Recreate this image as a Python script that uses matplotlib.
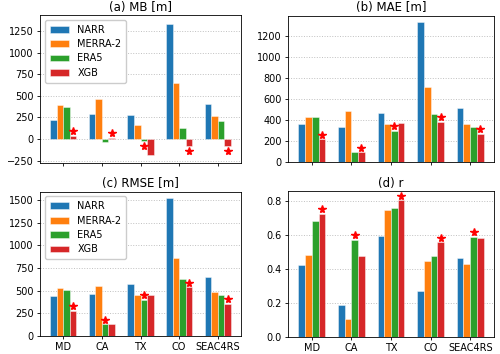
import numpy as np
import matplotlib
matplotlib.use("Agg")
import matplotlib.pyplot as plt

plt.rcParams['font.family'] = ['DejaVu Sans']
plt.rcParams['font.size'] = 7

sites = ['MD', 'CA', 'TX', 'CO', 'SEAC4RS']
models = ['NARR', 'MERRA-2', 'ERA5', 'XGB']
colors = ['#1f77b4', '#ff7f0e', '#2ca02c', '#d62728']

# values per model, ordered as sites
mb = {
    'NARR':    [220, 293, 278, 1327, 400],
    'MERRA-2': [390, 463, 158, 652, 262],
    'ERA5':    [367, -39, -27, 131, 204],
    'XGB':     [39, 15, -185, -77, -81],
}
mae = {
    'NARR':    [360, 328, 470, 1332, 510],
    'MERRA-2': [432, 480, 360, 712, 360],
    'ERA5':    [432, 93, 296, 460, 332],
    'XGB':     [213, 90, 367, 380, 264],
}
rmse = {
    'NARR':    [437, 459, 570, 1519, 656],
    'MERRA-2': [526, 556, 456, 863, 481],
    'ERA5':    [511, 127, 396, 630, 452],
    'XGB':     [281, 131, 456, 537, 352],
}
corr = {
    'NARR':    [0.425, 0.19, 0.595, 0.268, 0.462],
    'MERRA-2': [0.484, 0.107, 0.748, 0.45, 0.43],
    'ERA5':    [0.683, 0.571, 0.756, 0.474, 0.591],
    'XGB':     [0.724, 0.476, 0.804, 0.556, 0.581],
}

panels = [
    ('(a) MB [m]', mb, 'absmin', (-275, 1435), [-250, 0, 250, 500, 750, 1000, 1250]),
    ('(b) MAE [m]', mae, 'min', (0, 1395), [0, 200, 400, 600, 800, 1000, 1200]),
    ('(c) RMSE [m]', rmse, 'min', (0, 1595), [0, 250, 500, 750, 1000, 1250, 1500]),
    ('(d) r', corr, 'max', (0, 0.86), [0.0, 0.2, 0.4, 0.6, 0.8]),
]
positions = [
    [0.08, 0.54, 0.402, 0.418],
    [0.576, 0.543, 0.412, 0.413],
    [0.08, 0.051, 0.402, 0.408],
    [0.576, 0.048, 0.412, 0.413],
]

fig = plt.figure(figsize=(5, 3.54), dpi=100)
x = np.arange(len(sites))
width = 0.17

for i, (title, data, rule, ylim, yticks) in enumerate(panels):
    ax = fig.add_axes(positions[i])
    ax.set_axisbelow(True)
    ax.grid(axis='y', linestyle=':', color='#c0c0c0', linewidth=0.7)
    vals = np.array([data[m] for m in models])
    for j, m in enumerate(models):
        ax.bar(x + (j - 1.5) * width, vals[j], width, color=colors[j],
               edgecolor=(1, 1, 1, 0.6), linewidth=0.5, label=m)

    # star on the best model per site
    off = 0.033 * (ylim[1] - ylim[0])
    for k in range(len(sites)):
        col = vals[:, k]
        if rule == 'absmin':
            b = np.argmin(np.abs(col))
        elif rule == 'min':
            b = np.argmin(col)
        else:
            b = np.argmax(col)
        v = col[b]
        ys = v + off if v >= 0 else v - off
        ax.plot(x[k] + (b - 1.5) * width, ys, marker='*', color='red',
                markersize=5.8, linestyle='none')

    ax.set_ylim(*ylim)
    ax.set_yticks(yticks)
    ax.set_xlim(-0.6, len(sites) - 0.4)
    ax.set_xticks(x)
    if i >= 2:
        ax.set_xticklabels(sites)
    else:
        ax.set_xticklabels([])
    ax.set_title(title, fontsize=8.5, pad=3)
    ax.tick_params(labelsize=7, length=2.5, width=0.6, pad=2)
    for s in ax.spines.values():
        s.set_linewidth(0.6)
    if i in (0, 2):
        ax.legend(loc='upper left', handlelength=2.0, labelspacing=0.45,
                  handletextpad=0.85, borderpad=0.5, fontsize=7,
                  framealpha=1, edgecolor='#cccccc')

fig.savefig('out.png', dpi=100)
